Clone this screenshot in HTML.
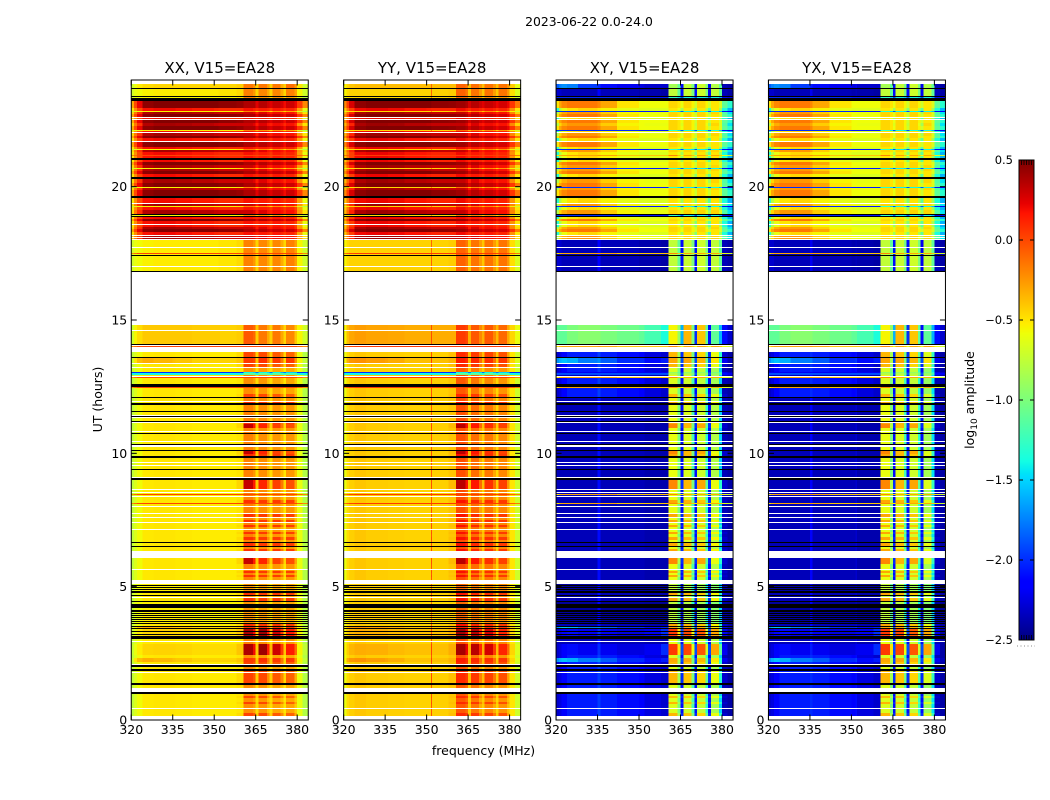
<!DOCTYPE html>
<html>
<head>
<meta charset="utf-8">
<title>2023-06-22 dynamic spectra</title>
<style>
html,body{margin:0;padding:0;background:#fff;width:1050px;height:800px;overflow:hidden}
svg{display:block}
text{font-family:"DejaVu Sans","Liberation Sans",sans-serif;fill:#000}
</style>
</head>
<body>
<svg id="chart" xmlns="http://www.w3.org/2000/svg" width="1050" height="800" viewBox="0 0 1050 800">
<rect x="0" y="0" width="1050" height="800" fill="#fff"/>
<text x="589" y="26" text-anchor="middle" font-size="12.4">2023-06-22 0.0-24.0</text>
<text transform="translate(102,399.5) rotate(-90)" text-anchor="middle" font-size="12.5">UT (hours)</text>
<text x="483.5" y="755" text-anchor="middle" font-size="12.5">frequency (MHz)</text>
<text transform="translate(974,400) rotate(-90)" text-anchor="middle" font-size="12.5">log<tspan font-size="9" dy="3">10</tspan><tspan dy="-3"> amplitude</tspan></text>
<g id="panels"></g>
<g id="colorbar"></g>
</svg>
<script>
// Frequency channels (MHz edges); a channel spans edge[i]..edge[i+1]
const channelEdges = [320,321,322,324,328,335,336,342,350,351.5,352,358,360.6,364,365,366,369,370,371,374,375,376,379,380,382,384];
const xTickLabels = [320,335,350,365,380];
const yTickLabels = [0,5,10,15,20];
const colorbarTicks = [-2.5,-2.0,-1.5,-1.0,-0.5,0.0,0.5];
const panelTitles = ['XX, V15=EA28','YY, V15=EA28','XY, V15=EA28','YX, V15=EA28'];

// log10 amplitude per channel for each observing state
const spectraXX = {
A:[-.75,-.65,-.57,-.51,-.5,-.5,-.51,-.52,-.52,-.52,-.52,-.5,-.18,-.25,-.47,-.22,-.35,-.47,-.25,-.35,-.5,-.25,-.4,-.6,-.8],
B:[-.75,-.65,-.57,-.51,-.5,-.5,-.51,-.52,-.52,-.52,-.52,-.47,.08,.02,-.42,.05,-.2,-.42,.05,-.15,-.45,.03,-.3,-.6,-.8],
E:[-.75,-.65,-.57,-.51,-.5,-.5,-.51,-.52,-.52,-.52,-.52,-.5,-.22,-.28,-.47,-.25,-.38,-.47,-.3,-.38,-.5,-.3,-.42,-.6,-.8],
F:[-.75,-.65,-.57,-.51,-.5,-.5,-.51,-.52,-.52,-.52,-.52,-.47,.02,-.05,-.42,0,-.22,-.42,-.05,-.2,-.45,-.08,-.32,-.6,-.8],
H:[-.75,-.65,-.57,-.51,-.5,-.5,-.51,-.52,-.52,-.52,-.52,-.45,.32,.15,-.4,.12,-.15,-.42,.03,-.15,-.45,-.02,-.3,-.6,-.8],
C:[-.72,-.6,-.52,-.45,-.44,-.44,-.45,-.47,-.47,-.47,-.47,-.4,.38,.2,-.4,.42,.15,-.35,.3,.05,-.4,.15,-.1,-.55,-.75],
D:[-.75,-.62,-.57,-.53,-.53,-.53,-.53,-.54,-.54,-.54,-.54,-.52,-.25,-.3,-.5,-.28,-.4,-.5,-.3,-.4,-.5,-.3,-.45,-.62,-.8],
G:[-.7,-.5,-.37,-.32,-.35,-.38,-.4,-.44,-.44,-.44,-.44,-.4,.05,.02,-.4,.08,-.15,-.4,.05,-.15,-.45,.05,-.25,-.55,-.75],
S:[-.7,-.55,-.47,-.41,-.41,-.41,-.41,-.42,-.42,-.42,-.44,-.42,-.05,-.1,-.42,-.15,-.3,-.42,-.15,-.3,-.45,-.2,-.4,-.55,-.7],
T:[-.7,-.6,-.52,-.47,-.45,-.45,-.45,-.45,-.45,-.45,-.45,-.42,-.15,-.22,-.42,-.15,-.27,-.42,-.15,-.32,-.42,-.12,-.25,-.5,-.7],
U:[-.68,-.6,-.57,-.54,-.52,-.52,-.52,-.52,-.52,-.5,-.5,-.47,-.18,-.25,-.44,-.2,-.3,-.44,-.2,-.32,-.45,-.18,-.28,-.55,-.7],
R:[-.3,0,.22,.46,.49,.49,.49,.49,.49,.47,.46,.44,.38,.38,.25,.36,.3,.25,.32,.28,.2,.3,.22,.05,-.2],
P:[-.45,-.15,.08,.36,.4,.4,.38,.35,.32,.3,.3,.3,.3,.25,.15,.25,.18,.14,.2,.18,.1,.18,.08,-.25,-.5],
Q:[-.5,-.22,0,.18,.2,.2,.18,.15,.12,.1,.1,.1,.18,.14,.1,.15,.12,.06,.16,.12,.06,.12,.02,-.28,-.6],
Y:[-.7,-.6,-.58,-.55,-.55,-.55,-.55,-.55,-.55,-.55,-.55,-.5,-.2,-.2,-.4,-.25,-.3,-.45,-.25,-.3,-.45,-.3,-.4,-.65,-.8],
L:[-2,-2,-2,-2,-2,-2,-2,-2,-2,-2,-2,-2,-1.4,-1.5,-1.8,-1.4,-1.5,-1.8,-1.4,-1.6,-1.8,-1.5,-1.6,-2,-2],
O:[-1.4,-1.4,-1.4,-1.4,-1.4,-1.4,-1.4,-1.4,-1.4,-1.4,-1.4,-1.4,-1.1,-1.1,-1.3,-1.1,-1.2,-1.3,-1.1,-1.2,-1.3,-1.2,-1.2,-1.4,-1.4],
V:[-.2,-.1,0,.02,.02,.02,.02,.02,.02,.02,.02,.02,.02,.02,0,.02,.02,0,.02,.02,0,.02,0,-.1,-.2]
};
const spectraYY = {
A:[-.6,-.47,-.43,-.4,-.42,-.42,-.43,-.44,-.44,-.05,-.43,-.4,-.02,-.1,-.42,-.12,-.3,-.42,-.15,-.3,-.45,-.2,-.35,-.5,-.7],
B:[-.6,-.47,-.43,-.4,-.42,-.42,-.43,-.44,-.44,-.02,-.43,-.38,.18,.1,-.37,.1,-.15,-.37,.08,-.12,-.4,.05,-.25,-.5,-.7],
E:[-.6,-.47,-.43,-.4,-.42,-.42,-.43,-.44,-.44,-.05,-.43,-.4,-.05,-.12,-.42,-.15,-.32,-.42,-.2,-.32,-.45,-.24,-.37,-.5,-.7],
F:[-.6,-.47,-.43,-.4,-.42,-.42,-.43,-.44,-.44,-.02,-.43,-.38,.1,.04,-.37,.05,-.18,-.37,.02,-.15,-.4,-.02,-.28,-.5,-.7],
H:[-.6,-.47,-.43,-.4,-.42,-.42,-.43,-.44,-.44,-.02,-.43,-.36,.35,.18,-.35,.16,-.1,-.37,.08,-.12,-.4,.03,-.25,-.5,-.7],
C:[-.55,-.42,-.35,-.32,-.33,-.33,-.36,-.38,-.38,0,-.38,-.32,.4,.22,-.32,.35,.1,-.32,.28,.05,-.35,.12,-.1,-.45,-.65],
D:[-.6,-.5,-.44,-.42,-.43,-.43,-.44,-.46,-.46,-.1,-.46,-.44,-.1,-.18,-.44,-.18,-.32,-.44,-.2,-.32,-.45,-.22,-.38,-.52,-.7],
G:[-.55,-.32,-.25,-.23,-.27,-.29,-.32,-.38,-.38,0,-.38,-.34,.14,.08,-.36,.1,-.12,-.36,.08,-.12,-.4,.06,-.2,-.45,-.65],
S:[-.55,-.37,-.3,-.27,-.29,-.29,-.3,-.32,-.32,-.02,-.32,-.32,.05,0,-.32,-.05,-.2,-.32,-.05,-.2,-.35,-.1,-.3,-.45,-.6],
T:[-.55,-.44,-.4,-.37,-.37,-.37,-.37,-.37,-.37,-.1,-.37,-.37,-.08,-.15,-.37,-.12,-.24,-.37,-.14,-.24,-.37,-.14,-.24,-.42,-.62],
U:[-.55,-.47,-.44,-.44,-.44,-.44,-.44,-.44,-.44,-.1,-.44,-.42,-.08,-.15,-.4,-.14,-.27,-.4,-.14,-.27,-.4,-.14,-.25,-.48,-.65],
R:[-.2,.05,.27,.46,.49,.49,.49,.49,.49,.47,.46,.45,.42,.38,.28,.36,.3,.25,.32,.28,.22,.28,.22,.06,-.15],
P:[-.35,-.08,.12,.38,.42,.42,.4,.36,.34,.32,.32,.32,.32,.26,.16,.26,.18,.15,.2,.18,.12,.18,.1,-.2,-.45],
Q:[-.4,-.15,.03,.2,.22,.22,.2,.17,.14,.12,.12,.12,.2,.15,.1,.16,.12,.07,.16,.12,.06,.12,.04,-.23,-.5],
Y:[-.6,-.5,-.48,-.46,-.46,-.46,-.46,-.46,-.46,-.2,-.46,-.42,-.12,-.15,-.35,-.2,-.26,-.4,-.22,-.28,-.42,-.25,-.35,-.55,-.7],
L:[-2,-2,-2,-2,-2,-2,-2,-2,-2,-2,-2,-2,-1.4,-1.5,-1.8,-1.4,-1.5,-1.8,-1.4,-1.6,-1.8,-1.5,-1.6,-2,-2],
O:[-1.4,-1.4,-1.4,-1.4,-1.4,-1.4,-1.4,-1.4,-1.4,-1.4,-1.4,-1.4,-1.1,-1.1,-1.3,-1.1,-1.2,-1.3,-1.1,-1.2,-1.3,-1.2,-1.2,-1.4,-1.4],
V:[-.15,-.05,.02,.05,.05,.05,.05,.05,.05,.05,.05,.05,.05,.05,.02,.05,.05,.02,.05,.05,.02,.05,.02,-.08,-.15]
};
const spectraXY = {
A:[-2.35,-2.35,-2.35,-2.35,-2.35,-2.1,-2.35,-2.35,-2.35,-2.35,-2.38,-2.38,-.6,-1,-2.1,-.65,-1.2,-2.1,-.7,-1.3,-2.1,-.8,-1.5,-2.35,-2.4],
B:[-2.35,-2.35,-2.35,-2.35,-2.35,-2.1,-2.35,-2.35,-2.35,-2.35,-2.38,-2.38,-.3,-.8,-2,-.35,-1,-2,-.4,-1.1,-2,-.55,-1.3,-2.3,-2.4],
E:[-2.3,-2.25,-2.15,-2.05,-2.05,-1.95,-2.05,-2.1,-2.15,-2.15,-2.25,-2.3,-.65,-1,-2.1,-.7,-1.2,-2.1,-.75,-1.3,-2.1,-.85,-1.5,-2.35,-2.4],
F:[-2.3,-2.25,-2.15,-2.05,-2.05,-1.95,-2.05,-2.1,-2.15,-2.15,-2.25,-2.3,-.35,-.85,-2,-.4,-1,-2,-.45,-1.1,-2,-.6,-1.3,-2.3,-2.4],
H:[-2.35,-2.35,-2.35,-2.35,-2.35,-2.1,-2.35,-2.35,-2.35,-2.35,-2.38,-2.38,-.2,-.8,-2,-.35,-1,-2,-.3,-1.1,-2,-.6,-1.3,-2.3,-2.4],
C:[-2.3,-2.25,-2.15,-2.1,-2.2,-2,-2.2,-2.25,-2.25,-2.25,-2.2,-2,.05,-.5,-1.9,0,-.6,-1.9,-.05,-.7,-1.9,-.3,-1.1,-2.2,-2.4],
D:[-2.42,-2.42,-2.42,-2.42,-2.42,-2.15,-2.42,-2.42,-2.42,-2.42,-2.44,-2.44,-.75,-1.1,-2.2,-.8,-1.3,-2.2,-.85,-1.4,-2.2,-.95,-1.5,-2.4,-2.45],
G:[-1.7,-1.6,-1.55,-1.6,-1.75,-1.7,-1.85,-2,-2,-2,-2.1,-2.05,-.3,-.8,-1.9,-.3,-1,-1.9,-.35,-1.1,-1.9,-.5,-1.3,-2.2,-2.35],
S:[-1.1,-1.1,-1.1,-1,-.95,-.95,-1,-1.05,-1.1,-1.1,-1.2,-1.35,-.55,-.9,-1.6,-.35,-1,-2,-.4,-1.1,-2.1,-1.1,-1.6,-2.1,-2.3],
T:[-1.85,-1.75,-1.7,-1.75,-1.95,-2,-2.1,-2.2,-2.25,-2.25,-2.3,-2.3,-.85,-1.1,-2.1,-.75,-1,-2.1,-.7,-1,-2.2,-.8,-1.1,-2.35,-2.4],
U:[-2.3,-2.3,-2.35,-2.35,-2.35,-2.15,-2.35,-2.35,-2.38,-2.38,-2.38,-2.4,-.75,-1.1,-2.1,-.72,-1,-2.1,-.7,-1,-2.2,-.75,-1.1,-2.35,-2.4],
R:[-.5,-.3,-.2,-.15,-.15,-.2,-.3,-.5,-.58,-.58,-.58,-.58,-.45,-.5,-.6,-.45,-.55,-.7,-.45,-.55,-.7,-.5,-.65,-1.1,-1.3],
P:[-.8,-.45,-.32,-.25,-.25,-.3,-.42,-.55,-.58,-.58,-.6,-.6,-.45,-.5,-.65,-.45,-.55,-.75,-.45,-.6,-.85,-.45,-.65,-1.15,-1.45],
Q:[-1.3,-.8,-.6,-.5,-.45,-.5,-.55,-.62,-.65,-.65,-.65,-.65,-.5,-.6,-.85,-.5,-.7,-.95,-.5,-.8,-1.1,-.5,-.85,-1.35,-1.6],
Y:[-2,-2,-2,-2,-2,-2,-2,-2,-2.05,-2.05,-2.05,-2.05,-1.3,-1.5,-1.9,-1.4,-1.5,-1.9,-1.4,-1.5,-1.9,-1.4,-1.6,-2.1,-2.2],
L:[-2.2,-2.2,-2.2,-2.2,-2.2,-2.2,-2.2,-2.2,-2.2,-2.2,-2.2,-2.2,-.9,-1.1,-2,-.9,-1.1,-2,-.9,-1.1,-2,-1,-1.3,-2.2,-2.3],
O:[-1.9,-1.9,-1.9,-1.9,-1.9,-1.9,-1.9,-1.9,-1.9,-1.9,-1.9,-1.9,-.8,-1,-1.9,-.8,-1,-1.9,-.8,-1,-1.9,-.9,-1.2,-2.1,-2.2],
V:[-.5,-.35,-.3,-.3,-.3,-.25,-.3,-.4,-.4,-.4,-.4,-.4,-.2,-.4,-.6,-.3,-.4,-.6,-.3,-.4,-.6,-.3,-.4,-.6,-.7]
};
const spectraYX = {
A:[-2.35,-2.35,-2.35,-2.35,-2.35,-2.15,-2.35,-2.35,-2.35,-2.3,-2.38,-2.38,-.6,-1,-2.1,-.65,-1.2,-2.1,-.7,-1.3,-2.1,-.85,-1.45,-2.35,-2.4],
B:[-2.35,-2.35,-2.35,-2.35,-2.35,-2.15,-2.35,-2.35,-2.35,-2.3,-2.38,-2.38,-.3,-.8,-2,-.35,-1,-2,-.4,-1.1,-2,-.6,-1.25,-2.3,-2.4],
E:[-2.3,-2.25,-2.15,-2.05,-2.05,-2,-2.05,-2.1,-2.15,-2.1,-2.25,-2.3,-.65,-1,-2.1,-.7,-1.2,-2.1,-.75,-1.3,-2.1,-.9,-1.45,-2.35,-2.4],
F:[-2.3,-2.25,-2.15,-2.05,-2.05,-2,-2.05,-2.1,-2.15,-2.1,-2.25,-2.3,-.35,-.85,-2,-.4,-1,-2,-.45,-1.1,-2,-.65,-1.25,-2.3,-2.4],
H:[-2.35,-2.35,-2.35,-2.35,-2.35,-2.15,-2.35,-2.35,-2.35,-2.3,-2.38,-2.38,-.2,-.8,-2,-.35,-1,-2,-.3,-1.1,-2,-.65,-1.25,-2.3,-2.4],
C:[-2.3,-2.25,-2.15,-2.1,-2.2,-2.05,-2.2,-2.25,-2.25,-2.2,-2.2,-2,.05,-.5,-1.9,0,-.6,-1.9,-.05,-.7,-1.9,-.3,-1.1,-2.2,-2.4],
D:[-2.42,-2.42,-2.42,-2.42,-2.42,-2.2,-2.42,-2.42,-2.42,-2.38,-2.44,-2.44,-.75,-1.1,-2.2,-.8,-1.3,-2.2,-.85,-1.4,-2.2,-.95,-1.5,-2.4,-2.45],
G:[-1.7,-1.6,-1.55,-1.6,-1.75,-1.75,-1.85,-2,-2,-1.95,-2.1,-2.05,-.3,-.8,-1.9,-.3,-1,-1.9,-.35,-1.1,-1.9,-.5,-1.3,-2.2,-2.35],
S:[-1.1,-1.1,-1.1,-1,-.95,-.95,-1,-1.05,-1.1,-1.1,-1.2,-1.35,-.55,-.9,-1.6,-.35,-1,-2,-.4,-1.1,-2.1,-1.1,-1.6,-2.1,-2.3],
T:[-1.85,-1.75,-1.7,-1.75,-1.95,-2.05,-2.1,-2.2,-2.25,-2.2,-2.3,-2.3,-.85,-1.1,-2.1,-.75,-1,-2.1,-.7,-1,-2.2,-.8,-1.1,-2.35,-2.4],
U:[-2.3,-2.3,-2.35,-2.35,-2.35,-2.2,-2.35,-2.35,-2.38,-2.35,-2.38,-2.4,-.75,-1.1,-2.1,-.72,-1,-2.1,-.7,-1,-2.2,-.75,-1.1,-2.35,-2.4],
R:[-.5,-.3,-.2,-.15,-.15,-.2,-.3,-.5,-.58,-.58,-.58,-.58,-.45,-.5,-.6,-.45,-.55,-.7,-.45,-.55,-.7,-.5,-.65,-1.1,-1.3],
P:[-.8,-.45,-.32,-.25,-.25,-.3,-.42,-.55,-.58,-.58,-.6,-.6,-.45,-.5,-.65,-.45,-.55,-.75,-.45,-.6,-.85,-.45,-.65,-1.15,-1.45],
Q:[-1.3,-.8,-.6,-.5,-.45,-.5,-.55,-.62,-.65,-.65,-.65,-.65,-.5,-.6,-.85,-.5,-.7,-.95,-.5,-.8,-1.1,-.5,-.85,-1.35,-1.6],
Y:[-2,-2,-2,-2,-2,-2,-2,-2,-2.05,-2.05,-2.05,-2.05,-1.3,-1.5,-1.9,-1.4,-1.5,-1.9,-1.4,-1.5,-1.9,-1.4,-1.6,-2.1,-2.2],
L:[-2.2,-2.2,-2.2,-2.2,-2.2,-2.2,-2.2,-2.2,-2.2,-2.2,-2.2,-2.2,-.9,-1.1,-2,-.9,-1.1,-2,-.9,-1.1,-2,-1,-1.3,-2.2,-2.3],
O:[-1.9,-1.9,-1.9,-1.9,-1.9,-1.9,-1.9,-1.9,-1.9,-1.9,-1.9,-1.9,-.8,-1,-1.9,-.8,-1,-1.9,-.8,-1,-1.9,-.9,-1.2,-2.1,-2.2],
V:[-.5,-.35,-.3,-.3,-.3,-.25,-.3,-.4,-.4,-.4,-.4,-.4,-.2,-.4,-.6,-.3,-.4,-.6,-.3,-.4,-.6,-.3,-.4,-.6,-.7]
};

// Time rows: [first integration number, state]. K = flagged (black), W = no data (white).
// One integration lasts 135 s; a row runs until the next row starts.
const integrationSeconds = 135;
const lastIntegration = 640;
const timeRows = [
[0,'W'],[4,'F'],[7,'E'],[11,'W'],[12,'E'],[16,'F'],[18,'E'],[22,'F'],[24,'E'],[26,'K'],[28,'W'],[32,'E'],[35,'K'],[37,'F'],[47,'W'],[48,'F'],
[49,'K'],[51,'E'],[53,'K'],[55,'W'],[56,'F'],[58,'G'],[62,'E'],[65,'C'],[76,'A'],[78,'W'],[79,'A'],[81,'K'],[84,'C'],[85,'K'],[86,'C'],[88,'K'],
[89,'C'],[91,'K'],[92,'G'],[93,'K'],[94,'B'],[96,'K'],[97,'D'],[98,'K'],[99,'D'],[100,'K'],[101,'D'],[102,'K'],[103,'D'],[104,'K'],[105,'D'],[106,'K'],
[107,'D'],[108,'K'],[110,'D'],[112,'K'],[116,'D'],[118,'K'],[119,'B'],[122,'W'],[123,'D'],[124,'K'],[125,'B'],[127,'K'],[129,'D'],[130,'K'],[131,'D'],[132,'K'],
[133,'D'],[134,'K'],[135,'D'],[136,'W'],[140,'A'],[143,'B'],[145,'A'],[147,'B'],[149,'A'],[150,'W'],[151,'A'],[156,'H'],[162,'W'],[169,'B'],[171,'A'],[173,'K'],
[174,'B'],[177,'K'],[178,'A'],[180,'B'],[183,'A'],[186,'B'],[188,'A'],[190,'W'],[191,'A'],[193,'B'],[195,'A'],[197,'W'],[198,'B'],[200,'A'],[202,'W'],[203,'B'],
[206,'W'],[207,'A'],[213,'W'],[214,'A'],[216,'V'],[217,'B'],[220,'A'],[223,'W'],[224,'A'],[225,'V'],[226,'A'],[227,'W'],[228,'A'],[230,'W'],[231,'H'],[240,'K'],
[242,'W'],[243,'A'],[250,'K'],[251,'A'],[254,'W'],[255,'A'],[257,'W'],[258,'A'],[262,'K'],[264,'B'],[266,'H'],[269,'K'],[270,'A'],[273,'W'],[275,'K'],[276,'A'],
[278,'W'],[279,'A'],[286,'K'],[287,'A'],[288,'W'],[289,'A'],[292,'H'],[296,'B'],[297,'W'],[298,'K'],[299,'A'],[302,'W'],[303,'K'],[304,'W'],[305,'A'],[308,'K'],
[309,'A'],[315,'K'],[317,'B'],[318,'W'],[319,'A'],[322,'K'],[323,'F'],[326,'E'],[332,'V'],[333,'K'],[336,'E'],[342,'V'],[343,'W'],[344,'A'],[345,'O'],[347,'L'],
[348,'E'],[352,'W'],[353,'F'],[356,'W'],[357,'G'],[362,'K'],[363,'F'],[368,'W'],[373,'V'],[374,'W'],[375,'K'],[376,'S'],[389,'W'],[390,'S'],[395,'W'],[448,'K'],
[449,'U'],[453,'W'],[454,'U'],[464,'K'],[465,'U'],[466,'V'],[467,'U'],[472,'W'],[473,'U'],[480,'W'],[481,'P'],[482,'W'],[483,'P'],[484,'W'],[485,'Q'],[488,'R'],
[491,'P'],[493,'Q'],[495,'W'],[496,'Q'],[499,'R'],[501,'Q'],[503,'K'],[504,'Y'],[505,'K'],[506,'P'],[510,'Q'],[513,'Y'],[514,'P'],[516,'W'],[517,'Q'],[522,'K'],
[524,'R'],[530,'P'],[532,'Y'],[533,'R'],[537,'P'],[541,'K'],[543,'Q'],[546,'R'],[549,'P'],[551,'Y'],[552,'P'],[555,'R'],[558,'Q'],[560,'K'],[562,'Q'],[564,'V'],
[565,'Q'],[568,'P'],[570,'Y'],[571,'Q'],[573,'R'],[578,'W'],[579,'Q'],[582,'R'],[584,'P'],[587,'W'],[588,'Q'],[589,'Y'],[590,'R'],[594,'P'],[597,'R'],[600,'W'],
[601,'Q'],[602,'W'],[603,'R'],[606,'P'],[608,'Y'],[609,'Q'],[612,'R'],[619,'K'],[622,'Y'],[623,'K'],[624,'U'],[631,'K'],[632,'T'],[636,'W']
];
const panelSpectra = [spectraXX, spectraYY, spectraXY, spectraYX];

const SVGNS = 'http://www.w3.org/2000/svg';
const plotTop = 80, plotBottom = 720, plotWidth = 177, panelStep = 212.4, firstPanelLeft = 131.25;
const freqMin = 320, freqMax = 384, hourMax = 24;
const cLow = -2.5, cHigh = 0.5;

function make(tag, attrs, parent) {
  const el = document.createElementNS(SVGNS, tag);
  for (const k in attrs) el.setAttribute(k, attrs[k]);
  parent.appendChild(el);
  return el;
}
function xScale(left, mhz) { return left + (mhz - freqMin) / (freqMax - freqMin) * plotWidth; }
function yScale(hours) { return plotBottom - hours / hourMax * (plotBottom - plotTop); }
function integrationToHours(n) { return n * integrationSeconds / 3600; }
function jet(v) {
  const t = Math.max(0, Math.min(1, (v - cLow) / (cHigh - cLow)));
  const ramp = (pts) => {
    for (let i = 1; i < pts.length; i++) {
      if (t <= pts[i][0]) {
        const f = (t - pts[i-1][0]) / (pts[i][0] - pts[i-1][0]);
        return pts[i-1][1] + f * (pts[i][1] - pts[i-1][1]);
      }
    }
    return pts[pts.length-1][1];
  };
  const r = ramp([[0,0],[.35,0],[.66,1],[.89,1],[1,.5]]);
  const g = ramp([[0,0],[.125,0],[.375,1],[.64,1],[.91,0],[1,0]]);
  const b = ramp([[0,.5],[.11,1],[.34,1],[.65,0],[1,0]]);
  return 'rgb(' + Math.round(r*255) + ',' + Math.round(g*255) + ',' + Math.round(b*255) + ')';
}

const panelsGroup = document.getElementById('panels');
panelTitles.forEach(function (title, p) {
  const left = firstPanelLeft + p * panelStep;
  const right = left + plotWidth;
  const g = make('g', {}, panelsGroup);
  
  

  const cells = make('g', {'shape-rendering': 'crispEdges'}, g);
  
  
  const spectra = panelSpectra[p];
  timeRows.forEach(function (row, r) {
    const endN = r + 1 < timeRows.length ? timeRows[r + 1][0] : lastIntegration;
    const y0 = yScale(integrationToHours(endN));
    const y1 = yScale(integrationToHours(row[0]));
    if (row[1] === 'W') return;
    if (row[1] === 'K') {
      const bar = make('rect', {x: left, y: y0, width: plotWidth, height: y1 - y0, fill: '#000'}, cells);
      
      
      return;
    }
    const values = spectra[row[1]];
    values.forEach(function (v, c) {
      const x0 = xScale(left, channelEdges[c]);
      const x1 = xScale(left, channelEdges[c + 1]);
      const cell = make('rect', {x: x0, y: y0, width: x1 - x0, height: y1 - y0, fill: jet(v)}, cells);
      
      
    });
  });

  const frame = make('rect', {x: left, y: plotTop, width: plotWidth, height: plotBottom - plotTop, fill: 'none', stroke: '#000', 'stroke-width': 1}, g);
  
  

  const t = make('text', {x: left + plotWidth / 2, y: 73, 'text-anchor': 'middle', 'font-size': 15}, g);
  
  
  t.textContent = title;

  xTickLabels.forEach(function (f) {
    const x = xScale(left, f);
    const a = make('line', {x1: x, x2: x, y1: plotBottom, y2: plotBottom - 5.5, stroke: '#000', 'stroke-width': 1}, g);
    
    
    const b = make('line', {x1: x, x2: x, y1: plotTop, y2: plotTop + 5.5, stroke: '#000', 'stroke-width': 1}, g);
    
    
    const l = make('text', {x: x, y: 734, 'text-anchor': 'middle', 'font-size': 12.5}, g);
    
    
    l.textContent = String(f);
  });
  yTickLabels.forEach(function (h) {
    const y = yScale(h);
    const a = make('line', {x1: left, x2: left + 5.5, y1: y, y2: y, stroke: '#000', 'stroke-width': 1}, g);
    
    
    const b = make('line', {x1: right, x2: right - 5.5, y1: y, y2: y, stroke: '#000', 'stroke-width': 1}, g);
    
    
    const l = make('text', {x: left - 4, y: y + 4.5, 'text-anchor': 'end', 'font-size': 12.5}, g);
    
    
    l.textContent = String(h);
  });
});

// Colorbar
const cbar = document.getElementById('colorbar');
const cbLeft = 1019, cbRight = 1034, cbTop = 160, cbBottom = 640;
function cbY(v) { return cbBottom - (v - cLow) / (cHigh - cLow) * (cbBottom - cbTop); }
const cbSteps = 240;
const cbCells = make('g', {'shape-rendering': 'crispEdges'}, cbar);


for (let i = 0; i < cbSteps; i++) {
  const v0 = cLow + (cHigh - cLow) * i / cbSteps;
  const v1 = cLow + (cHigh - cLow) * (i + 1) / cbSteps;
  const s = make('rect', {x: cbLeft, y: cbY(v1), width: cbRight - cbLeft, height: cbY(v0) - cbY(v1) + 0.5, fill: jet((v0 + v1) / 2)}, cbCells);
  
  
}
const cbFrame = make('rect', {x: cbLeft, y: cbTop, width: cbRight - cbLeft, height: cbBottom - cbTop, fill: 'none', stroke: '#000', 'stroke-width': 1}, cbar);


colorbarTicks.forEach(function (v) {
  const y = cbY(v);
  const a = make('line', {x1: cbLeft, x2: cbLeft + 4, y1: y, y2: y, stroke: '#000', 'stroke-width': 1}, cbar);
  
  
  const b = make('line', {x1: cbRight, x2: cbRight - 4, y1: y, y2: y, stroke: '#000', 'stroke-width': 1}, cbar);
  
  
  const l = make('text', {x: 1013, y: y + 4, 'text-anchor': 'end', 'font-size': 11.5}, cbar);
  
  
  l.textContent = v.toFixed(1).replace('-', '\u2212');
});
[1021.5, 1024, 1026.5, 1029, 1031.5].forEach(function (x) {
  const a = make('line', {x1: x, x2: x, y1: cbTop, y2: cbTop + 5, stroke: '#000', 'stroke-width': 0.8}, cbar);
  
  
  const b = make('line', {x1: x, x2: x, y1: cbBottom, y2: cbBottom - 5, stroke: '#000', 'stroke-width': 0.8}, cbar);
  
  
});
const dots = make('line', {x1: 1017, x2: 1035, y1: 646, y2: 646, stroke: '#888', 'stroke-width': 1, 'stroke-dasharray': '1 2.5'}, cbar);


</script>
</body>
</html>
